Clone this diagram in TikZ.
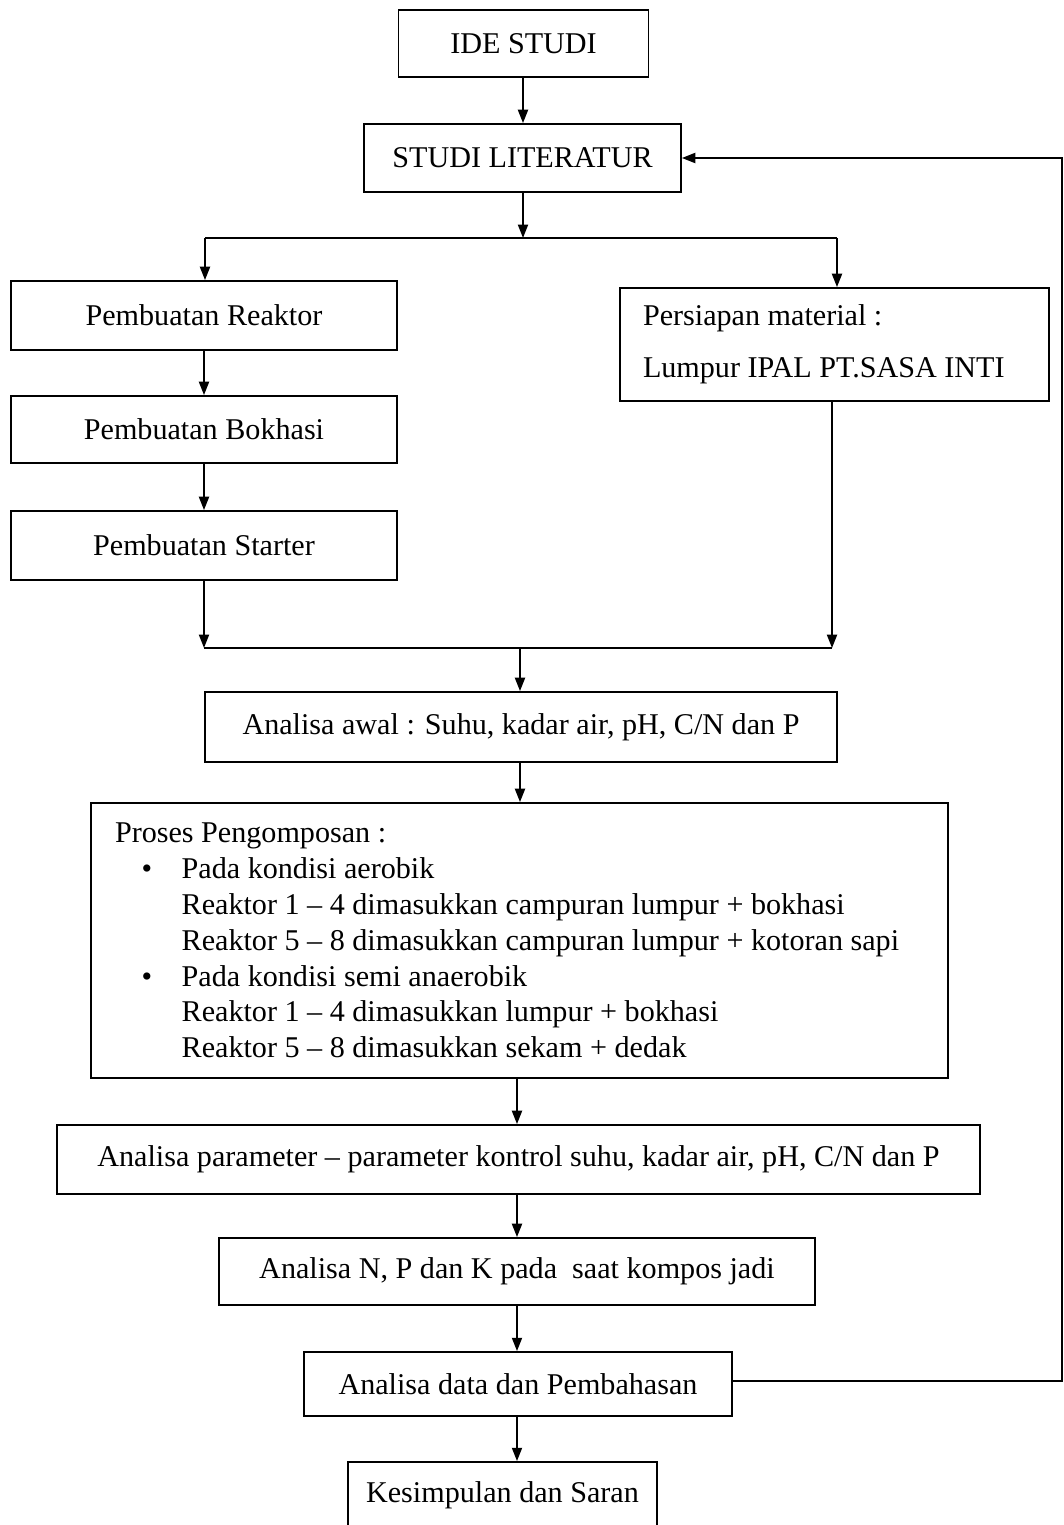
\documentclass[tikz,border=0pt]{standalone}
\usepackage{fontspec}
\setmainfont{Liberation Serif}
\usetikzlibrary{arrows.meta}
\begin{document}
\begin{tikzpicture}[x=0.75pt,y=-0.75pt,
  box/.style={draw,line width=1.4pt,inner sep=0pt,align=center,font=\fontsize{22.6}{27}\selectfont},
  arr/.style={line width=1.4pt,-{Triangle[length=10pt,width=7.5pt]}},
  ln/.style={line width=1.4pt}]
\useasboundingbox (0,0) rectangle (1064,1525);
\fill[white] (0,0) rectangle (1064,1525);

\node[box,minimum width=187.5pt,minimum height=50.25pt] (ide) at (523.5,43.5) {IDE STUDI};
\node[box,minimum width=237.75pt,minimum height=51pt] (lit) at (522.5,158) {STUDI LITERATUR};
\node[box,minimum width=289.5pt,minimum height=51.75pt] (reaktor) at (204,315.5) {Pembuatan Reaktor};
\node[box,minimum width=289.5pt,minimum height=50.25pt] (bokhasi) at (204,429.5) {Pembuatan Bokhasi};
\node[box,minimum width=289.5pt,minimum height=51.75pt] (starter) at (204,545.5) {Pembuatan Starter};
\node[box,align=flush left,inner xsep=17.25pt,text width=287.25pt,minimum height=84.75pt] (persiapan) at (834.5,344.5)
  {Persiapan material :\\[12pt]Lumpur IPAL PT.SASA INTI};
\node[box,minimum width=474pt,minimum height=52.5pt] (awal) at (521,727) {Analisa awal : Suhu, kadar air, pH, C/N dan P};
\node[box,align=flush left,inner xsep=18pt,text width=606.75pt,minimum height=206.25pt,font=\fontsize{22.6}{26.85}\selectfont] (proses) at (519.5,940.5)
  {Proses Pengomposan :\\
   \hspace*{20pt}\makebox[30pt][l]{•}Pada kondisi aerobik\\
   \hspace*{50pt}Reaktor 1 – 4 dimasukkan campuran lumpur + bokhasi\\
   \hspace*{50pt}Reaktor 5 – 8 dimasukkan campuran lumpur + kotoran sapi\\
   \hspace*{20pt}\makebox[30pt][l]{•}Pada kondisi semi anaerobik\\
   \hspace*{50pt}Reaktor 1 – 4 dimasukkan lumpur + bokhasi\\
   \hspace*{50pt}Reaktor 5 – 8 dimasukkan sekam + dedak};
\node[box,minimum width=692.25pt,minimum height=51.75pt] (param) at (518.5,1159.5) {Analisa parameter – parameter kontrol suhu, kadar air, pH, C/N dan P};
\node[box,minimum width=447pt,minimum height=50.25pt] (npk) at (517,1271.5) {Analisa N, P dan K pada\ \ saat kompos jadi};
\node[box,minimum width=321pt,minimum height=48pt] (data) at (518,1384) {Analisa data dan Pembahasan};
\node[box,minimum width=231.75pt,minimum height=49.5pt] (kes) at (502.5,1495) {Kesimpulan dan Saran};

\coordinate (s1) at (523,238);
\coordinate (s1l) at (205,238);
\coordinate (s1r) at (837,238);
\coordinate (s2l) at (204,648);
\coordinate (s2r) at (832,648);
\coordinate (s2m) at (520,648);
\coordinate (fb) at (1062,1381);

\draw[arr] (ide.south -| 523,0) -- (lit.north -| 523,0);
\draw[arr] (lit.south -| s1) -- (s1);
\draw[ln] (s1l) -- (s1r);
\draw[arr] (s1l) -- (reaktor.north -| s1l);
\draw[arr] (s1r) -- (persiapan.north -| s1r);
\draw[arr] (reaktor.south) -- (bokhasi.north);
\draw[arr] (bokhasi.south) -- (starter.north);
\draw[arr] (starter.south) -- (s2l);
\draw[arr] (persiapan.south -| s2r) -- (s2r);
\draw[ln] (s2l) -- (s2r);
\draw[arr] (s2m) -- (awal.north -| s2m);
\draw[arr] (awal.south -| 520,0) -- (proses.north -| 520,0);
\draw[arr] (proses.south -| 517,0) -- (param.north -| 517,0);
\draw[arr] (param.south -| 517,0) -- (npk.north -| 517,0);
\draw[arr] (npk.south -| 517,0) -- (data.north -| 517,0);
\draw[arr] (data.south -| 517,0) -- (kes.north -| 517,0);
\draw[arr] (data.east |- fb) -- (fb) |- (lit.east);
\end{tikzpicture}
\end{document}
